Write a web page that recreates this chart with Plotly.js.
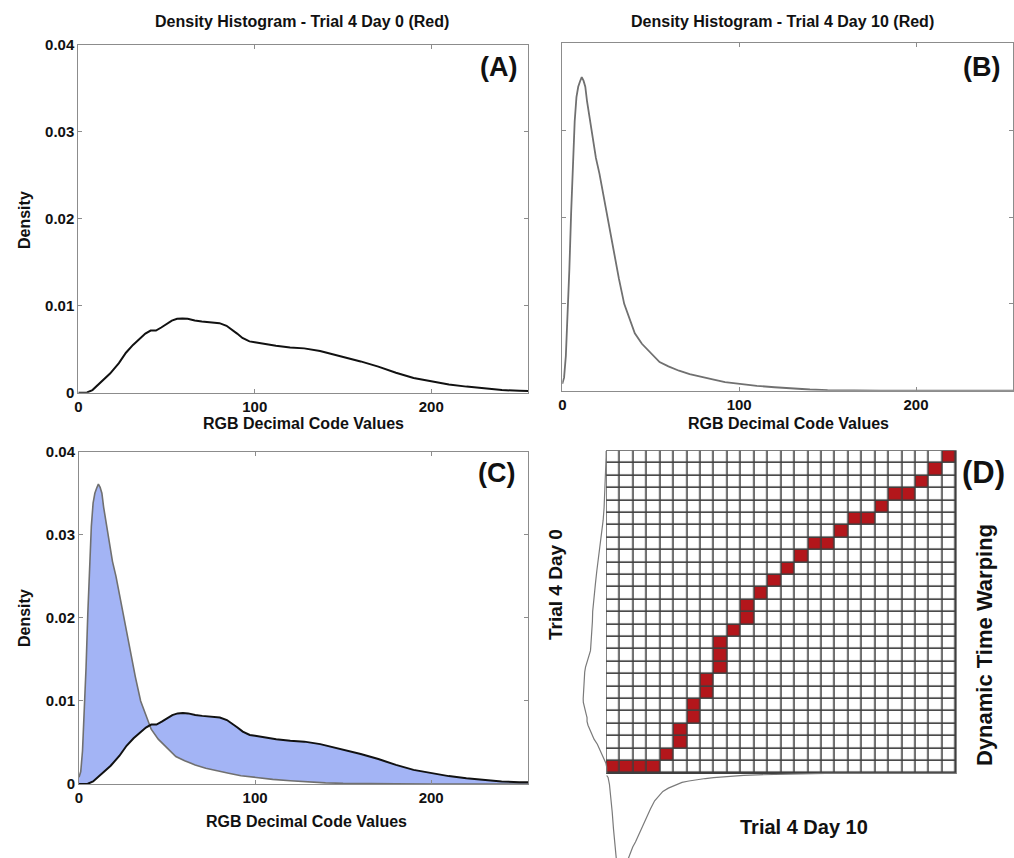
<!DOCTYPE html>
<html>
<head>
<meta charset="utf-8">
<script src="https://cdn.plot.ly/plotly-3.0.1.min.js"></script>
<style>html,body{margin:0;padding:0;background:#fff;}#chart{width:1014px;height:858px;}</style>
</head>
<body>
<div id="chart"></div>
<script>
// ---- Data ----
const day0X = [0, 2, 5, 8, 10, 14, 18, 23, 27, 31, 35, 38, 41, 44, 47, 50, 53, 56, 59, 62, 66, 70, 75, 80, 84, 87, 90, 93, 97, 100, 105, 112, 120, 128, 137, 143, 150, 160, 170, 180, 190, 200, 210, 220, 230, 240, 250, 255];
const day0Y = [0, 0, 0.00003, 0.0003, 0.0007, 0.0014, 0.0022, 0.0034, 0.0046, 0.0055, 0.0063, 0.0068, 0.00715, 0.00715, 0.0075, 0.0079, 0.0083, 0.0085, 0.00855, 0.0085, 0.0083, 0.0082, 0.0081, 0.0080, 0.0077, 0.0073, 0.0068, 0.0063, 0.0059, 0.0058, 0.0056, 0.0054, 0.0052, 0.0051, 0.0048, 0.0045, 0.0041, 0.0036, 0.0030, 0.0023, 0.0017, 0.0013, 0.00095, 0.0007, 0.00048, 0.0003, 0.00022, 0.0002];

const day10X = [0, 1, 2, 3, 4, 5, 6, 7, 8, 9, 10, 11, 12, 13, 14, 15, 17, 19, 21, 23, 25, 27, 30, 32, 35, 38, 41, 45, 50, 55, 60, 66, 72, 78, 85, 92, 100, 110, 120, 130, 140, 150, 160, 180, 200, 220, 240, 255];
const day10Y = [0.0008, 0.0015, 0.004, 0.0085, 0.014, 0.0205, 0.0265, 0.031, 0.0338, 0.0350, 0.0356, 0.0361, 0.0357, 0.0350, 0.0333, 0.0320, 0.0292, 0.0268, 0.0250, 0.0228, 0.0205, 0.0183, 0.0148, 0.0129, 0.0100, 0.0082, 0.0066, 0.0054, 0.0043, 0.0033, 0.0028, 0.0023, 0.0019, 0.0016, 0.0013, 0.0010, 0.00078, 0.00056, 0.0004, 0.00025, 0.00014, 0.00007, 0.00003, 0.00001, 0, 0, 0, 0];

const xTicks = [0, 100, 200];
const yTicks = [0, 0.01, 0.02, 0.03, 0.04];
const yTickText = ['0', '0.01', '0.02', '0.03', '0.04'];

// DTW grid (26 x 26) and warping path cells (column = Day 10 index, row = Day 0 index)
const gridCols = 26;
const gridRows = 26;
const pathCol = [0, 1, 2, 3, 4, 5, 5, 6, 6, 7, 7, 8, 8, 8, 9, 10, 10, 11, 12, 13, 14, 15, 16, 17, 18, 19, 20, 21, 22, 23, 24, 25];
const pathRow = [0, 0, 0, 0, 1, 2, 3, 4, 5, 6, 7, 8, 9, 10, 11, 12, 13, 14, 15, 16, 17, 18, 18, 19, 20, 20, 21, 22, 22, 23, 24, 25];

const titleA = 'Density Histogram - Trial 4 Day 0 (Red)';
const titleB = 'Density Histogram - Trial 4 Day 10 (Red)';
const xTitle = 'RGB Decimal Code Values';
const yTitle = 'Density';

// ---- Layout helpers ----
const W = 1014, H = 858;
const fx = px => px / W;
const fy = py => 1 - py / H;
const FONT = 'Liberation Sans, Arial, Helvetica, sans-serif';

function boxAxis(extra) {
  return Object.assign({
    showline: true, linecolor: '#8c8c8c', linewidth: 1, mirror: 'ticks',
    ticks: 'inside', ticklen: 4, tickcolor: '#8c8c8c', tickwidth: 1,
    showgrid: false, zeroline: false,
    tickfont: {family: FONT, size: 15, color: '#111', weight: 'bold'}
  }, extra);
}

// Panel D scales
const dayRange = 255;
const densPx = 2750;            // px per density unit for the side curves
const cellW = 13.435, cellH = 12.4;
const colScale = gridCols / dayRange, rowScale = gridRows / dayRange;

const traces = [];
// (A)
traces.push({x: day0X, y: day0Y, type: 'scatter', mode: 'lines', line: {color: '#111', width: 2}, xaxis: 'x', yaxis: 'y', hoverinfo: 'skip'});
// (B)
traces.push({x: day10X, y: day10Y, type: 'scatter', mode: 'lines', line: {color: '#707070', width: 1.8}, xaxis: 'x2', yaxis: 'y2', hoverinfo: 'skip'});
// (C) fill between the two curves
traces.push({x: day0X, y: day0Y, type: 'scatter', mode: 'lines', line: {color: 'rgba(0,0,0,0)', width: 0}, xaxis: 'x3', yaxis: 'y3', hoverinfo: 'skip'});
traces.push({x: day10X, y: day10Y, type: 'scatter', mode: 'lines', fill: 'tonexty', fillcolor: '#a3b4f5', line: {color: 'rgba(0,0,0,0)', width: 0}, xaxis: 'x3', yaxis: 'y3', hoverinfo: 'skip'});
traces.push({x: day10X, y: day10Y, type: 'scatter', mode: 'lines', line: {color: '#707070', width: 1.6}, xaxis: 'x3', yaxis: 'y3', hoverinfo: 'skip'});
traces.push({x: day0X, y: day0Y, type: 'scatter', mode: 'lines', line: {color: '#111', width: 2}, xaxis: 'x3', yaxis: 'y3', hoverinfo: 'skip'});

// (D) grid heatmap
const z = [];
for (let r = 0; r < gridRows; r++) { z.push(new Array(gridCols).fill(0)); }
for (let i = 0; i < pathCol.length; i++) { z[pathRow[i]][pathCol[i]] = 1; }
const cellX = [], cellY = [];
for (let c = 0; c < gridCols; c++) cellX.push(c + 0.5);
for (let r = 0; r < gridRows; r++) cellY.push(r + 0.5);
traces.push({type: 'heatmap', z: z, x: cellX, y: cellY, xaxis: 'x4', yaxis: 'y4',
  colorscale: [[0, '#ffffff'], [1, '#b3161b']], zmin: 0, zmax: 1, showscale: false,
  xgap: 1.6, ygap: 1.6, hoverinfo: 'skip'});
// Day 0 curve rotated along the left side of the grid
traces.push({type: 'scatter', mode: 'lines', xaxis: 'x4', yaxis: 'y4', hoverinfo: 'skip',
  x: day0Y.map(d => -d * densPx / cellW), y: day0X.map(v => v * rowScale),
  line: {color: '#7a7a7a', width: 1.2}});
// Day 10 curve hanging below the grid
traces.push({type: 'scatter', mode: 'lines', xaxis: 'x4', yaxis: 'y4', hoverinfo: 'skip',
  x: day10X.map(v => v * colScale), y: day10Y.map(d => -d * densPx / cellH),
  line: {color: '#7a7a7a', width: 1.2}});

// D axis ranges from pixel placement
const dLeft = 556, dRight = 962, dTop = 445, dBottom = 858;
const gridX0 = 606.7, gridY0 = 773.3;

const layout = {
  width: W, height: H,
  margin: {l: 0, r: 0, t: 0, b: 0},
  paper_bgcolor: '#fff', plot_bgcolor: 'rgba(0,0,0,0)',
  showlegend: false,
  font: {family: FONT, color: '#111'},
  xaxis: boxAxis({domain: [fx(78.3), fx(528.3)], range: [0, 255], tickvals: xTicks, anchor: 'y'}),
  yaxis: boxAxis({domain: [fy(392.7), fy(45)], range: [0, 0.04], tickvals: yTicks, ticktext: yTickText, anchor: 'x'}),
  xaxis2: boxAxis({domain: [fx(562.3), fx(1013.3)], range: [0, 255], tickvals: xTicks, anchor: 'y2'}),
  yaxis2: boxAxis({domain: [fy(390.7), fy(43.3)], range: [0, 0.04], tickvals: yTicks, showticklabels: false, anchor: 'x2'}),
  xaxis3: boxAxis({domain: [fx(79), fx(528)], range: [0, 255], tickvals: xTicks, anchor: 'y3'}),
  yaxis3: boxAxis({domain: [fy(784), fy(451.7)], range: [0, 0.04], tickvals: yTicks, ticktext: yTickText, anchor: 'x3'}),
  xaxis4: {domain: [fx(dLeft), fx(dRight)], range: [-(gridX0 - dLeft) / cellW, (dRight - gridX0) / cellW], visible: false, anchor: 'y4', fixedrange: true},
  yaxis4: {domain: [fy(dBottom), fy(dTop)], range: [-(dBottom - gridY0) / cellH, (gridY0 - dTop) / cellH], visible: false, anchor: 'x4', fixedrange: true},
  shapes: [{type: 'rect', xref: 'x4', yref: 'y4', x0: 0, x1: gridCols, y0: 0, y1: gridRows,
    fillcolor: '#3f3f3f', line: {color: '#3f3f3f', width: 1.2}, layer: 'below'}],
  annotations: [
    {text: titleA, x: fx(302), y: fy(21), xref: 'paper', yref: 'paper', showarrow: false, xanchor: 'center', yanchor: 'middle', font: {size: 16, weight: 'bold', color: '#111'}},
    {text: titleB, x: fx(782), y: fy(21), xref: 'paper', yref: 'paper', showarrow: false, xanchor: 'center', yanchor: 'middle', font: {size: 16, weight: 'bold', color: '#111'}},
    {text: xTitle, x: fx(303), y: fy(424), xref: 'paper', yref: 'paper', showarrow: false, xanchor: 'center', yanchor: 'middle', font: {size: 16, weight: 'bold', color: '#111'}},
    {text: xTitle, x: fx(788), y: fy(424), xref: 'paper', yref: 'paper', showarrow: false, xanchor: 'center', yanchor: 'middle', font: {size: 16, weight: 'bold', color: '#111'}},
    {text: xTitle, x: fx(306), y: fy(821), xref: 'paper', yref: 'paper', showarrow: false, xanchor: 'center', yanchor: 'middle', font: {size: 16, weight: 'bold', color: '#111'}},
    {text: yTitle, x: fx(25), y: fy(220), xref: 'paper', yref: 'paper', showarrow: false, textangle: -90, xanchor: 'center', yanchor: 'middle', font: {size: 16, weight: 'bold', color: '#111'}},
    {text: yTitle, x: fx(24), y: fy(618), xref: 'paper', yref: 'paper', showarrow: false, textangle: -90, xanchor: 'center', yanchor: 'middle', font: {size: 16, weight: 'bold', color: '#111'}},
    {text: '(A)', x: fx(498), y: fy(67), xref: 'paper', yref: 'paper', showarrow: false, xanchor: 'center', yanchor: 'middle', font: {size: 27, weight: 'bold', color: '#111'}},
    {text: '(B)', x: fx(981), y: fy(67), xref: 'paper', yref: 'paper', showarrow: false, xanchor: 'center', yanchor: 'middle', font: {size: 27, weight: 'bold', color: '#111'}},
    {text: '(C)', x: fx(496), y: fy(473), xref: 'paper', yref: 'paper', showarrow: false, xanchor: 'center', yanchor: 'middle', font: {size: 27, weight: 'bold', color: '#111'}},
    {text: '(D)', x: fx(983), y: fy(472), xref: 'paper', yref: 'paper', showarrow: false, xanchor: 'center', yanchor: 'middle', font: {size: 31, weight: 'bold', color: '#111'}},
    {text: 'Trial 4 Day 0', x: fx(555), y: fy(585), xref: 'paper', yref: 'paper', showarrow: false, textangle: -90, xanchor: 'center', yanchor: 'middle', font: {size: 19, weight: 'bold', color: '#111'}},
    {text: 'Dynamic Time Warping', x: fx(984), y: fy(645), xref: 'paper', yref: 'paper', showarrow: false, textangle: -90, xanchor: 'center', yanchor: 'middle', font: {size: 22, weight: 'bold', color: '#111'}},
    {text: 'Trial 4 Day 10', x: fx(804), y: fy(827), xref: 'paper', yref: 'paper', showarrow: false, xanchor: 'center', yanchor: 'middle', font: {size: 20, weight: 'bold', color: '#111'}}
  ]
};

Plotly.newPlot('chart', traces, layout, {staticPlot: true, displayModeBar: false});
</script>
</body>
</html>
